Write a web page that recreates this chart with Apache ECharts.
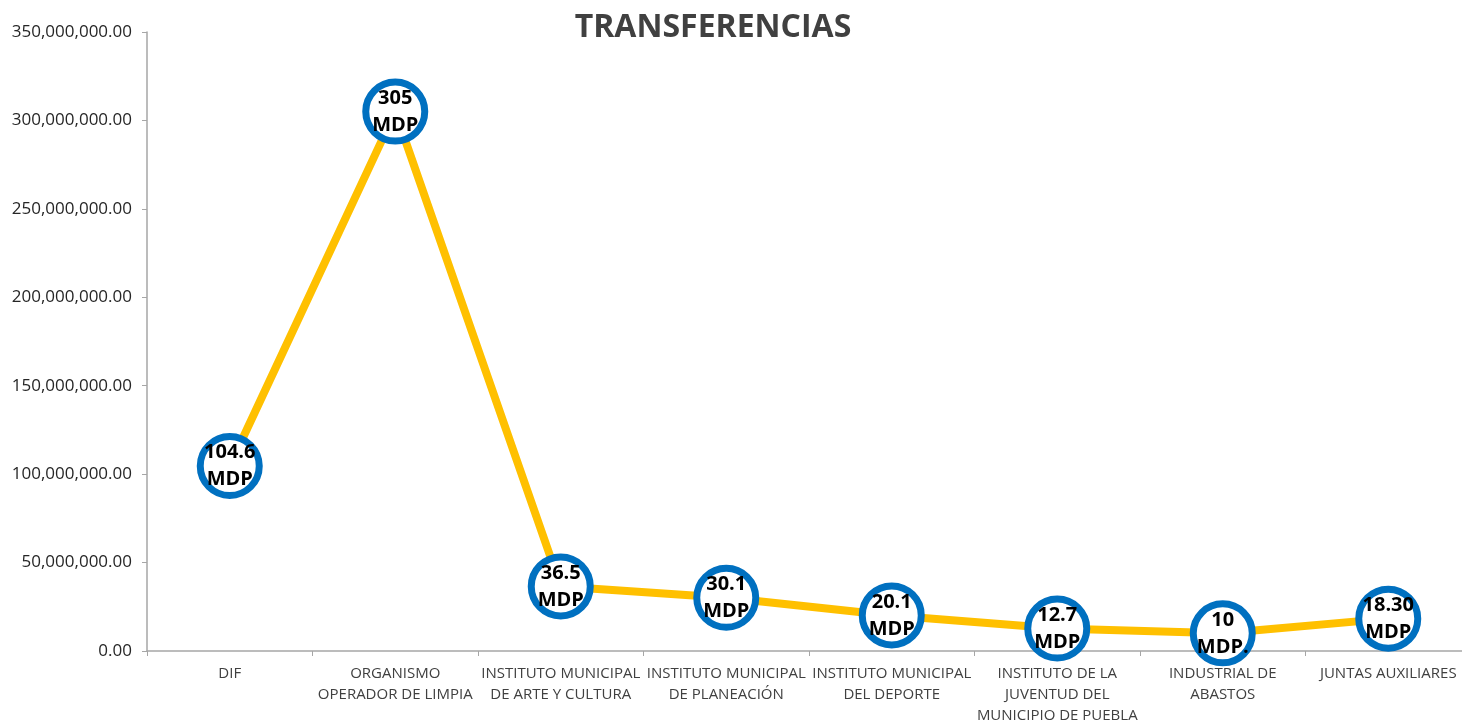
<!DOCTYPE html>
<html><head><meta charset="utf-8">
<script src="https://cdn.jsdelivr.net/npm/echarts@6/dist/echarts.min.js"></script>
<style>html,body{margin:0;padding:0;background:#fff;overflow:hidden}#c{width:1462px;height:721px}</style>
</head><body><div id="c"></div>
<script>
const categories = ["DIF","ORGANISMO\nOPERADOR DE LIMPIA","INSTITUTO MUNICIPAL\nDE ARTE Y CULTURA","INSTITUTO MUNICIPAL\nDE PLANEACIÓN","INSTITUTO MUNICIPAL\nDEL DEPORTE","INSTITUTO DE LA\nJUVENTUD DEL\nMUNICIPIO DE PUEBLA","INDUSTRIAL DE\nABASTOS","JUNTAS AUXILIARES"];
const values = [104600000, 305000000, 36500000, 30100000, 20100000, 12700000, 10000000, 18300000];
const pointLabels = ["104.6\nMDP","305\nMDP","36.5\nMDP","30.1\nMDP","20.1\nMDP","12.7\nMDP","10\nMDP.","18.30\nMDP"];
const yTicks = {min:0, max:350000000, interval:50000000};

const chart = echarts.init(document.getElementById('c'));
chart.setOption({
  animation:false,
  title:{text:'TRANSFERENCIAS', left:708, top:7, textAlign:'center',
    textStyle:{fontFamily:'Open Sans', fontWeight:'bold', fontSize:32, color:'#404040'}},
  grid:{left:147, right:-9, top:32, bottom:70, containLabel:false, outerBoundsMode:'none'},
  xAxis:{type:'category', data:categories, boundaryGap:true,
    axisLine:{lineStyle:{color:'#a6a6a6', width:1.5}},
    axisTick:{show:true, alignWithLabel:false, length:5, lineStyle:{color:'#a6a6a6'}},
    axisLabel:{interval:0, margin:12, fontFamily:'Open Sans', fontSize:15, color:'#404040', lineHeight:21}},
  yAxis:{type:'value', min:yTicks.min, max:yTicks.max, interval:yTicks.interval,
    splitLine:{show:false},
    axisLine:{show:true, lineStyle:{color:'#a6a6a6', width:1.5}},
    axisTick:{show:true, length:5, lineStyle:{color:'#a6a6a6'}},
    axisLabel:{margin:15, fontFamily:'Open Sans', fontSize:17, color:'#262626',
      formatter:v=>v.toLocaleString('en-US',{minimumFractionDigits:2,maximumFractionDigits:2})}},
  series:[{type:'line', data:values.map((v,i)=>({value:v, label:{formatter:pointLabels[i]}})),
    lineStyle:{color:'#FFC000', width:8},
    symbol:'circle', symbolSize:59,
    itemStyle:{color:'#ffffff', borderColor:'#0070C0', borderWidth:7},
    label:{show:true, position:'inside', fontFamily:'Open Sans', fontWeight:'bold', fontSize:20, color:'#000', lineHeight:27}
  }]
});
</script></body></html>
